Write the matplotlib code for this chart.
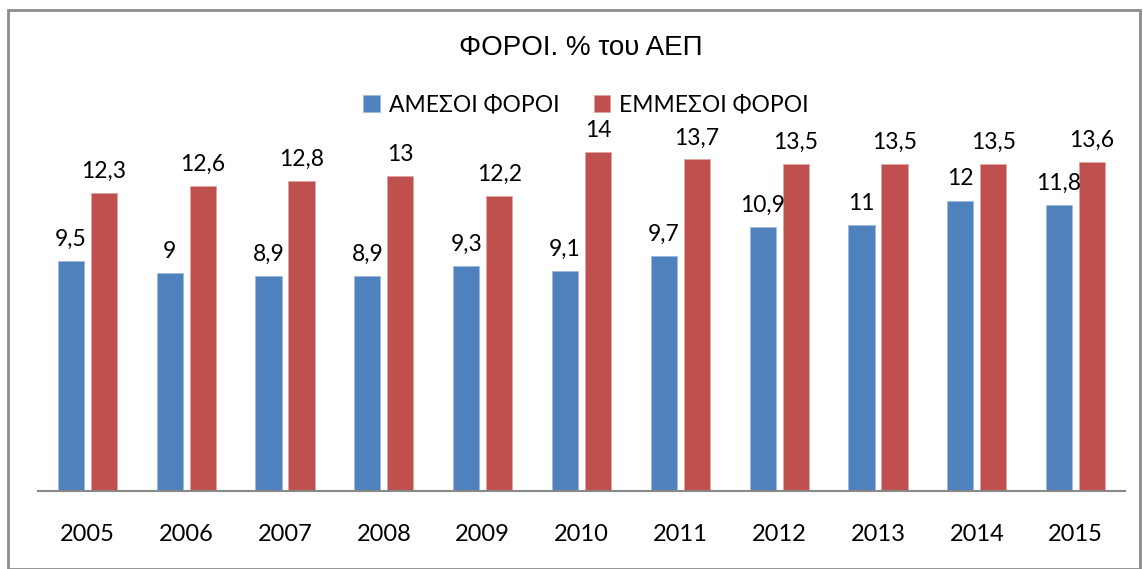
import matplotlib.pyplot as plt
from matplotlib.patches import Rectangle
import numpy as np

years = ['2005', '2006', '2007', '2008', '2009', '2010', '2011', '2012', '2013', '2014', '2015']
direct = [9.5, 9, 8.9, 8.9, 9.3, 9.1, 9.7, 10.9, 11, 12, 11.8]
indirect = [12.3, 12.6, 12.8, 13, 12.2, 14, 13.7, 13.5, 13.5, 13.5, 13.6]
series_names = ['ΑΜΕΣΟΙ ΦΟΡΟΙ', 'ΕΜΜΕΣΟΙ ΦΟΡΟΙ']

blue = '#4F81BD'
red = '#C0504D'
label_font = ['Lato', 'DejaVu Sans']

W, H = 1143, 569
fig = plt.figure(figsize=(W / 100, H / 100), dpi=100)
# axes placed in pixel terms: baseline at y=491, 24.2 px per unit
ymax = 16
ax = fig.add_axes([38 / W, (H - 491) / H, (1125 - 38) / W, ymax * 24.2 / H])

x = np.arange(len(years))
bw = 0.265
off = 0.167
b1 = ax.bar(x - off, direct, bw, color=blue, edgecolor='#9fb9dc', linewidth=0.6, label=series_names[0])
b2 = ax.bar(x + off, indirect, bw, color=red, edgecolor='#e0a5a3', linewidth=0.6, label=series_names[1])

for bars, vals in ((b1, direct), (b2, indirect)):
    for rect, v in zip(bars, vals):
        txt = ('%g' % v).replace('.', ',')
        ax.annotate(txt, (rect.get_x() + rect.get_width() / 2, v), xytext=(0, 8),
                    textcoords='offset points', ha='center', va='bottom',
                    fontsize=16.5, family=label_font)

ax.set_xlim(-0.5, len(years) - 0.5)
ax.set_ylim(0, ymax)
ax.set_yticks([])
ax.set_xticks(x)
ax.set_xticklabels(years, fontsize=17, family=label_font)
ax.tick_params(axis='x', length=0, pad=24)
for s in ['top', 'right', 'left']:
    ax.spines[s].set_visible(False)
ax.spines['bottom'].set_color('#888888')
ax.spines['bottom'].set_linewidth(1.5)

fig.text(581 / W, 1 - 48 / H, 'ΦΟΡΟΙ. % του ΑΕΠ', ha='center', va='center',
         fontsize=20, family=['Liberation Sans', 'DejaVu Sans'])

fig.legend(handles=[b1, b2], loc='center', bbox_to_anchor=(586 / W, 1 - 105 / H),
           ncol=2, frameon=False, handlelength=0.7, handleheight=0.7,
           handletextpad=0.4, columnspacing=1.5,
           prop={'family': label_font, 'size': 16.5})

# outer chart border
fig.add_artist(Rectangle((8 / W, 0), (1140 - 8) / W, 1 - 10 / H, transform=fig.transFigure,
                         fill=False, edgecolor='#8c8c8c', linewidth=2))

fig.savefig('out.png', dpi=100)
